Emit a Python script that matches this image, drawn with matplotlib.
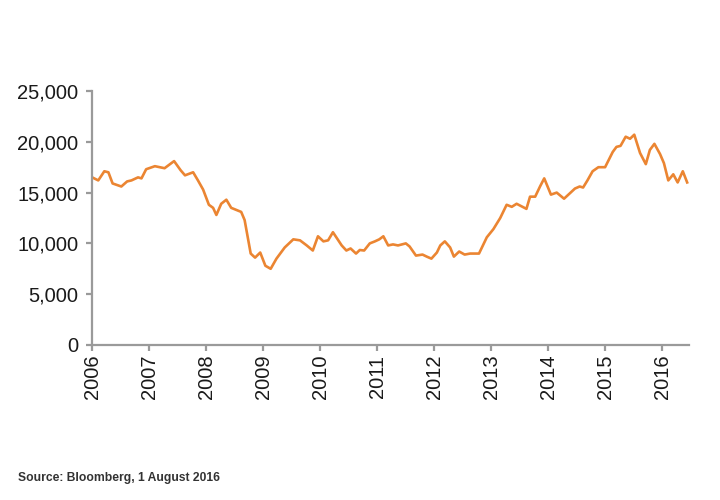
import matplotlib
matplotlib.use("Agg")
import matplotlib.pyplot as plt
from matplotlib.ticker import FuncFormatter
import pandas as pd

dates = [
    "2006-01-01", "2006-02-09", "2006-03-20", "2006-04-15", "2006-05-12", "2006-07-07",
    "2006-08-13", "2006-09-10", "2006-10-22", "2006-11-13", "2006-12-13", "2007-02-07",
    "2007-04-10", "2007-06-10", "2007-07-22", "2007-08-19", "2007-10-10", "2007-11-10",
    "2007-12-13", "2008-01-19", "2008-02-15", "2008-03-07", "2008-04-07", "2008-05-10",
    "2008-06-10", "2008-08-13", "2008-09-04", "2008-10-13", "2008-11-10", "2008-12-13",
    "2009-01-15", "2009-02-18", "2009-03-27", "2009-05-19", "2009-07-13", "2009-08-25",
    "2009-10-07", "2009-11-15", "2009-12-18", "2010-01-22", "2010-02-21", "2010-03-24",
    "2010-05-19", "2010-06-18", "2010-07-15", "2010-08-19", "2010-09-12", "2010-10-10",
    "2010-11-15", "2010-12-18", "2011-01-15", "2011-02-10", "2011-03-13", "2011-04-13",
    "2011-05-15", "2011-07-04", "2011-07-28", "2011-09-07", "2011-10-19", "2011-11-15",
    "2011-12-15", "2012-01-19", "2012-02-10", "2012-03-10", "2012-04-13", "2012-05-07",
    "2012-06-10", "2012-07-15", "2012-08-19", "2012-10-15", "2012-12-04", "2013-01-15",
    "2013-02-28", "2013-04-10", "2013-05-13", "2013-06-13", "2013-08-15", "2013-09-07",
    "2013-10-10", "2013-11-10", "2013-12-07", "2014-01-19", "2014-02-25", "2014-04-13",
    "2014-06-22", "2014-07-22", "2014-08-13", "2014-09-10", "2014-10-13", "2014-11-19",
    "2015-01-01", "2015-02-19", "2015-03-15", "2015-04-10", "2015-05-13", "2015-06-10",
    "2015-07-07", "2015-08-13", "2015-09-19", "2015-10-15", "2015-11-13", "2015-12-19",
    "2016-01-13", "2016-02-10", "2016-03-13", "2016-04-10", "2016-05-13", "2016-06-10",
]
values = [
    16500, 16200, 17100, 17000, 15900, 15600,
    16100, 16200, 16500, 16400, 17300, 17600,
    17400, 18100, 17200, 16700, 17000, 16200,
    15300, 13800, 13500, 12800, 13900, 14300,
    13500, 13100, 12300, 9000, 8600, 9100,
    7800, 7500, 8500, 9600, 10400, 10300,
    9800, 9300, 10700, 10200, 10300, 11100,
    9800, 9300, 9500, 9000, 9350, 9300,
    10000, 10200, 10400, 10700, 9800, 9900,
    9800, 10000, 9700, 8800, 8900, 8700,
    8500, 9100, 9800, 10200, 9600, 8700,
    9200, 8900, 9000, 9000, 10600, 11400,
    12500, 13800, 13600, 13900, 13400, 14600,
    14600, 15600, 16400, 14800, 15000, 14400,
    15400, 15600, 15500, 16200, 17100, 17500,
    17500, 19000, 19500, 19600, 20500, 20300,
    20700, 18900, 17800, 19200, 19800, 18800,
    17900, 16200, 16800, 16000, 17100, 16000,
]
year_ticks = [str(y) for y in range(2006, 2017)]
y_ticks = [0, 5000, 10000, 15000, 20000, 25000]
source_text = "Source: Bloomberg, 1 August 2016"

plt.rcParams['font.family'] = ['Liberation Sans', 'DejaVu Sans']

fig = plt.figure(figsize=(7.2, 5), dpi=100)
ax = fig.add_axes([0.128, 0.31, 0.829, 0.508])

ax.plot(pd.to_datetime(dates), values, color="#EB8532", linewidth=1.9,
        solid_joinstyle="round")

ax.set_ylim(0, 25000)
ax.set_yticks(y_ticks)
ax.yaxis.set_major_formatter(FuncFormatter(lambda v, p: f"{int(v):,}"))

ax.set_xlim(pd.Timestamp("2006-01-01"), pd.Timestamp("2016-06-22"))
ax.set_xticks(pd.to_datetime([y + "-01-01" for y in year_ticks]))
ax.set_xticklabels(year_ticks, rotation=90)

for s in ["top", "right"]:
    ax.spines[s].set_visible(False)
for s in ["left", "bottom"]:
    ax.spines[s].set_color("#9a9a9a")
    ax.spines[s].set_linewidth(1.6)

ax.tick_params(axis="both", colors="#9a9a9a", width=1.6, length=4,
               labelsize=14.5, labelcolor="#1a1a1a")
ax.tick_params(axis="y", pad=6)
ax.tick_params(axis="x", pad=3)

fig.text(0.025, 0.044, source_text, fontsize=8.7, fontweight="bold",
         color="#333333", va="center", ha="left")

fig.savefig("out.png", dpi=100, facecolor="white")
